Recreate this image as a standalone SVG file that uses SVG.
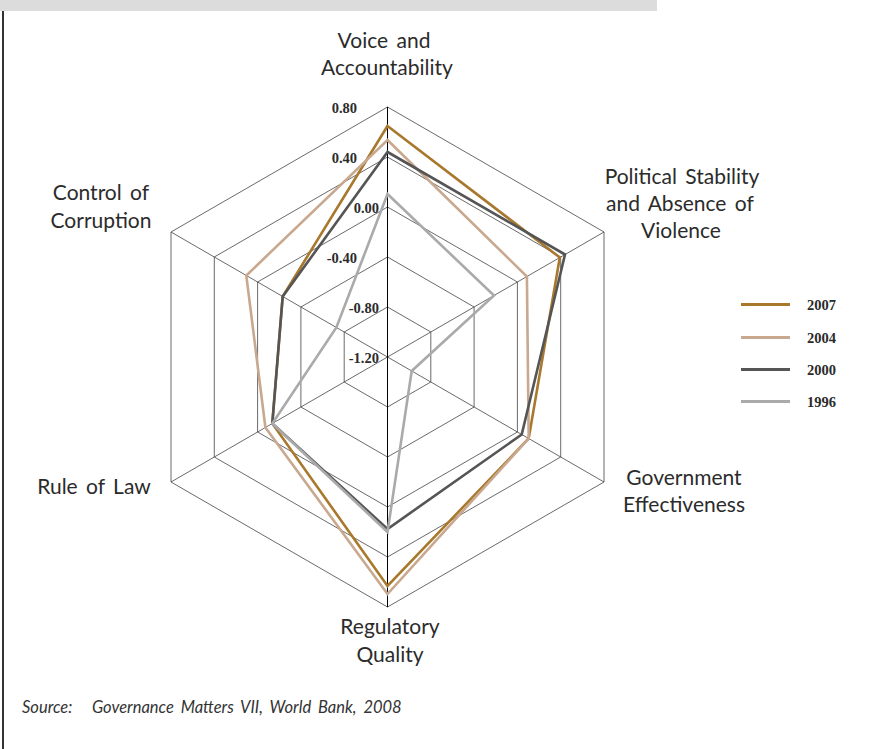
<svg xmlns="http://www.w3.org/2000/svg" width="877" height="749" viewBox="0 0 877 749">
  <style>
    .lbl { font-family: Lato, "Liberation Sans", sans-serif; font-size: 21px; fill: #2b2b2b; text-anchor: middle; word-spacing: 3px; }
    .tick { font-family: "Liberation Serif", serif; font-size: 14.5px; font-weight: bold; fill: #2b2b2b; text-anchor: end; }
    .leg { font-family: "Liberation Serif", serif; font-size: 14.5px; font-weight: bold; fill: #2b2b2b; }
    .src { font-family: Lato, "Liberation Sans", sans-serif; font-size: 16.5px; font-style: italic; fill: #333; }
    .ring { fill: none; stroke: #444; stroke-width: 0.8; }
    .spoke { stroke: #444; stroke-width: 0.8; }
    .axis { stroke: #000; stroke-width: 1; }
    .series { fill: none; stroke-width: 2.6; stroke-linejoin: miter; }
    .s2007 { stroke: #a8782c; }
    .s2004 { stroke: #c8a88f; }
    .s2000 { stroke: #555555; }
    .s1996 { stroke: #aaaaaa; }
  </style>

  <!-- frame -->
  <rect x="0" y="0" width="657" height="11" fill="#dcdcdc"/>
  <line x1="3" y1="11" x2="3" y2="749" stroke="#333" stroke-width="2"/>

  <!-- grid -->
  <g id="grid">
    <polygon class="ring" points="387.5,107 604,232 604,482 387.5,607 171,482 171,232"/>
    <polygon class="ring" points="387.5,157 560.7,257 560.7,457 387.5,557 214.3,457 214.3,257"/>
    <polygon class="ring" points="387.5,207 517.4,282 517.4,432 387.5,507 257.6,432 257.6,282"/>
    <polygon class="ring" points="387.5,257 474.1,307 474.1,407 387.5,457 300.9,407 300.9,307"/>
    <polygon class="ring" points="387.5,307 430.8,332 430.8,382 387.5,407 344.2,382 344.2,332"/>
    <line class="spoke" x1="387.5" y1="357" x2="604" y2="232"/>
    <line class="spoke" x1="387.5" y1="357" x2="604" y2="482"/>
    <line class="spoke" x1="387.5" y1="357" x2="171" y2="482"/>
    <line class="spoke" x1="387.5" y1="357" x2="171" y2="232"/>
    <line class="axis" x1="387.5" y1="107" x2="387.5" y2="607"/>
  </g>

  <!-- tick labels -->
  <g id="ticks">
    <text class="tick" x="357" y="113">0.80</text>
    <text class="tick" x="357" y="163">0.40</text>
    <text class="tick" x="379" y="213">0.00</text>
    <text class="tick" x="357" y="263">-0.40</text>
    <text class="tick" x="379" y="313">-0.80</text>
    <text class="tick" x="379" y="363">-1.20</text>
  </g>

  <!-- data series -->
  <g id="connectors">
    <polygon id="series-2007" class="series s2007" points="387.5,126 559.8,257.5 528.7,438.5 387.5,586 272.3,423.5 282.7,296.5"/>
    <polygon id="series-2004" class="series s2004" points="387.5,140 526.9,276.5 528.7,438.5 387.5,594 265.4,427.5 246.3,275.5"/>
    <polygon id="series-2000" class="series s2000" points="387.5,152 565,254.5 521.7,434.5 387.5,529 272.3,423.5 282.7,296.5"/>
    <polygon id="series-1996" class="series s1996" points="387.5,194 494,295.5 411.7,371 387.5,532 272.3,423.5 336.4,327.5"/>
  </g>

  <!-- axis labels -->
  <g id="node-voice">
    <text class="lbl" x="384" y="48">Voice and</text>
    <text class="lbl" x="387" y="75">Accountability</text>
  </g>
  <g id="node-political">
    <text class="lbl" x="682" y="184">Political Stability</text>
    <text class="lbl" x="680" y="211">and Absence of</text>
    <text class="lbl" x="681" y="238">Violence</text>
  </g>
  <g id="node-government">
    <text class="lbl" x="684" y="485">Government</text>
    <text class="lbl" x="684" y="512">Effectiveness</text>
  </g>
  <g id="node-regulatory">
    <text class="lbl" x="390" y="634">Regulatory</text>
    <text class="lbl" x="390" y="662">Quality</text>
  </g>
  <g id="node-rule">
    <text class="lbl" x="94" y="494">Rule of Law</text>
  </g>
  <g id="node-control">
    <text class="lbl" x="101" y="200">Control of</text>
    <text class="lbl" x="101" y="228">Corruption</text>
  </g>

  <!-- legend -->
  <g id="legend">
    <line class="s2007" x1="741" y1="304.5" x2="790" y2="304.5" stroke-width="3"/>
    <text class="leg" x="807" y="309.5">2007</text>
    <line class="s2004" x1="741" y1="337.5" x2="790" y2="337.5" stroke-width="3"/>
    <text class="leg" x="807" y="342.5">2004</text>
    <line class="s2000" x1="741" y1="369.5" x2="790" y2="369.5" stroke-width="3"/>
    <text class="leg" x="807" y="374.5">2000</text>
    <line class="s1996" x1="741" y1="401.5" x2="790" y2="401.5" stroke-width="3"/>
    <text class="leg" x="807" y="406.5">1996</text>
  </g>

  <!-- source -->
  <text class="src" x="22" y="713" word-spacing="1">Source:</text>
  <text class="src" x="92" y="713" word-spacing="3">Governance Matters VII, World Bank, 2008</text>
</svg>
